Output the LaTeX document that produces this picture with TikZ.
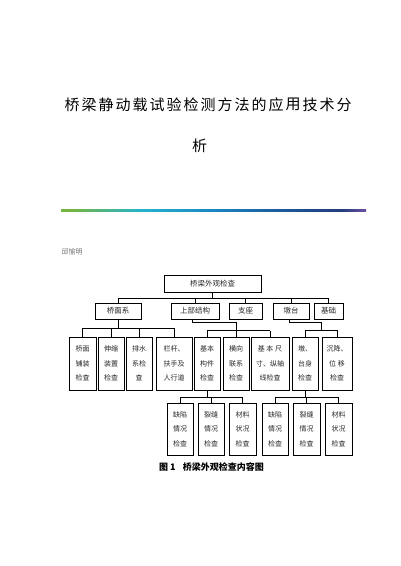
\documentclass[tikz,border=0pt]{standalone}
\usepackage{fontspec}
\setmainfont{Noto Sans CJK SC}
\usetikzlibrary{calc}
\definecolor{g1}{HTML}{74B542}
\definecolor{g2}{HTML}{25B4CC}
\definecolor{g3}{HTML}{1A86C2}
\definecolor{g4}{HTML}{1C5697}
\definecolor{g5}{HTML}{233D7C}
\definecolor{g6}{HTML}{6B4FA3}
\pgfdeclarehorizontalshading{rulegrad}{100bp}{color(0bp)=(g1); color(27bp)=(g1); color(38bp)=(g2); color(50bp)=(g3); color(62bp)=(g4); color(71bp)=(g5); color(75bp)=(g6); color(100bp)=(g6)}
\begin{document}
\begin{tikzpicture}[x=1pt,y=-1pt,
  box/.style={draw, line width=0.6pt, inner sep=0pt, text=black!85, align=center, font=\fontsize{7}{14.5}\selectfont},
  hbox/.style={box, font=\fontsize{7.5}{9}\selectfont},
  ln/.style={line width=0.5pt},
  titlechar/.style={font=\fontsize{15}{15}\selectfont, inner sep=0pt}]
\useasboundingbox (0,0) rectangle (400,566);
% title
\foreach \c [count=\i from 0] in {桥,梁,静,动,载,试,验,检,测,方,法,的,应,用,技,术,分}
  \node[titlechar] (t\i) at (72+17*\i,104.5) {\c};
\node[titlechar] (t2a) at (199.5,146) {析};
% gradient rule
\shade[shading=rulegrad] (61,209) rectangle (366,211.5);
% author
\node[font=\fontsize{7}{7}\selectfont, text=black!55, inner sep=0pt] (author) at (72,252) {邱愉明};
% levels
\coordinate (y298) at (0,298);
\coordinate (y323) at (0,322.5);
\coordinate (y328) at (0,328);
\coordinate (y331) at (0,330.5);
\coordinate (y397) at (0,397);
% top
\node[hbox, minimum width=97pt, minimum height=17pt] (top) at (212.5,283.5) {桥梁外观检查};
% row 2
\node[hbox, minimum width=46pt, minimum height=16pt] (qms) at (118,311) {桥面系};
\node[hbox, minimum width=48pt, minimum height=16pt] (sbjg) at (195,311) {上部结构};
\node[hbox, minimum width=33pt, minimum height=16pt] (zz) at (245.5,311) {支座};
\node[hbox, minimum width=36pt, minimum height=16pt] (dt) at (291,311) {墩台};
\node[hbox, minimum width=29pt, minimum height=16pt] (jc) at (328.5,311) {基础};
% row 3
\node[box, minimum width=27pt, minimum height=53pt] (a1) at (82.5,363.5) {桥面\\铺装\\检查};
\node[box, minimum width=26pt, minimum height=53pt] (a2) at (111,363.5) {伸缩\\装置\\检查};
\node[box, minimum width=26pt, minimum height=53pt] (a3) at (139,363.5) {排水\\系检\\查};
\node[box, minimum width=36pt, minimum height=53pt] (a4) at (174,363.5) {栏杆、\\扶手及\\人行道};
\node[box, minimum width=26pt, minimum height=53pt] (b1) at (207,363.5) {基本\\构件\\检查};
\node[box, minimum width=26pt, minimum height=53pt] (b2) at (236,363.5) {横向\\联系\\检查};
\node[box, minimum width=38pt, minimum height=53pt] (b3) at (270,363.5) {基 本 尺\\寸、纵轴\\线检查};
\node[box, minimum width=26pt, minimum height=53pt] (c1) at (305,363.5) {墩、\\台身\\检查};
\node[box, minimum width=30pt, minimum height=53pt] (c2) at (337,363.5) {沉降、\\位 移\\检查};
% row 4
\node[box, minimum width=26pt, minimum height=52pt] (d1) at (180,429) {缺陷\\情况\\检查};
\node[box, minimum width=26pt, minimum height=52pt] (d2) at (211,429) {裂缝\\情况\\检查};
\node[box, minimum width=27pt, minimum height=52pt] (d3) at (242.5,429) {材料\\状况\\检查};
\node[box, minimum width=26pt, minimum height=52pt] (e1) at (275,429) {缺陷\\情况\\检查};
\node[box, minimum width=27pt, minimum height=52pt] (e2) at (306.5,429) {裂缝\\情况\\检查};
\node[box, minimum width=27pt, minimum height=52pt] (e3) at (338.5,429) {材料\\状况\\检查};
% connectors level 1
\draw[ln] (top.south) -- (top.south |- y298);
\draw[ln] (qms.north |- y298) -- (jc.north |- y298);
\foreach \n in {qms,sbjg,zz,dt,jc} \draw[ln] (\n.north) -- (\n.north |- y298);
% 桥面系 group
\draw[ln] (qms.south) -- (qms.south |- y328);
\draw[ln] (a1.north |- y328) -- (a4.north |- y328);
\foreach \n in {a1,a2,a3,a4} \draw[ln] (\n.north) -- (\n.north |- y328);
% 上部结构 group
\draw[ln] ([xshift=-3pt]sbjg.south) -- ([xshift=-3pt]sbjg.south |- y323) -| (b2.north);
\draw[ln] (b1.north |- y331) -- (b3.north |- y331);
\foreach \n in {b1,b3} \draw[ln] (\n.north) -- (\n.north |- y331);
% 墩台 group
\coordinate (cm) at ($(c1.north |- y331)!0.5!(c2.north |- y331)$);
\draw[ln] ([xshift=-2pt]dt.south) -- ([xshift=-2pt]dt.south |- y323) -| (cm);
\draw[ln] (c1.north) -- (c1.north |- y331) -- (c2.north |- y331) -- (c2.north);
% row 4 groups
\draw[ln] (b1.south) -- (b1.south |- y397);
\draw[ln] (d1.north |- y397) -- (d3.north |- y397);
\foreach \n in {d1,d2,d3} \draw[ln] (\n.north) -- (\n.north |- y397);
\draw[ln] (c1.south) -- (c1.south |- y397);
\draw[ln] (e1.north |- y397) -- (e3.north |- y397);
\foreach \n in {e1,e2,e3} \draw[ln] (\n.north) -- (\n.north |- y397);
% caption
\node[font=\fontsize{9}{9}\selectfont\bfseries, inner sep=0pt] (cap) at (211.5,467.5) {图 1\hspace{0.8em}桥梁外观检查内容图};
\end{tikzpicture}
\end{document}
